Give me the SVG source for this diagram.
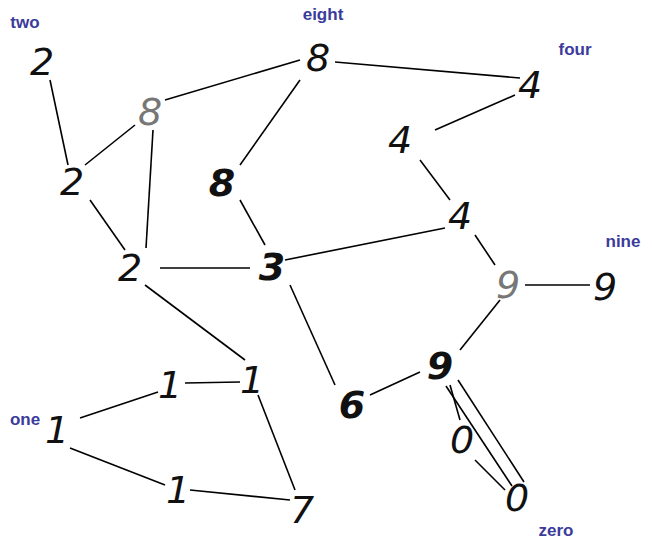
<svg xmlns="http://www.w3.org/2000/svg" width="652" height="552" viewBox="0 0 652 552">
<style>
.e{stroke:#000;stroke-width:1.6;fill:none}
.d{font-family:"DejaVu Sans",sans-serif;font-style:italic;font-size:38px;fill:#111;text-anchor:middle;dominant-baseline:central}
.b{font-weight:bold}
.g{fill:#777}
.l{font-family:"Liberation Sans",sans-serif;font-weight:bold;font-size:17px;fill:#3b3b9b;text-anchor:middle}
</style>
<rect width="652" height="552" fill="#fff"/>
<g id="connectors">
<line class="e" x1="50" y1="80" x2="68" y2="165"/>
<line class="e" x1="85" y1="165" x2="135" y2="125"/>
<line class="e" x1="165" y1="100" x2="300" y2="60"/>
<line class="e" x1="335" y1="62" x2="520" y2="78"/>
<line class="e" x1="515" y1="95" x2="435" y2="130"/>
<line class="e" x1="300" y1="80" x2="240" y2="165"/>
<line class="e" x1="153" y1="130" x2="146" y2="248"/>
<line class="e" x1="90" y1="200" x2="125" y2="250"/>
<line class="e" x1="160" y1="268" x2="250" y2="268"/>
<line class="e" x1="240" y1="200" x2="265" y2="245"/>
<line class="e" x1="285" y1="260" x2="445" y2="228"/>
<line class="e" x1="420" y1="160" x2="450" y2="200"/>
<line class="e" x1="475" y1="235" x2="495" y2="265"/>
<line class="e" x1="525" y1="285" x2="590" y2="285"/>
<line class="e" x1="500" y1="300" x2="460" y2="350"/>
<line class="e" x1="290" y1="285" x2="335" y2="385"/>
<line class="e" x1="370" y1="395" x2="420" y2="372"/>
<line class="e" x1="450" y1="385" x2="460" y2="420"/>
<line class="e" x1="446" y1="386" x2="512" y2="486"/>
<line class="e" x1="458" y1="380" x2="524" y2="482"/>
<line class="e" x1="475" y1="460" x2="505" y2="490"/>
<line class="e" x1="145" y1="285" x2="245" y2="360"/>
<line class="e" x1="185" y1="383" x2="240" y2="382"/>
<line class="e" x1="258" y1="395" x2="295" y2="490"/>
<line class="e" x1="80" y1="418" x2="158" y2="392"/>
<line class="e" x1="70" y1="448" x2="165" y2="485"/>
<line class="e" x1="190" y1="490" x2="290" y2="500"/>
</g>
<g id="n1"><text class="d" x="42" y="62">2</text><text class="l" x="25" y="28">two</text></g>
<g id="n2"><text class="d g" x="150" y="112">8</text></g>
<g id="n3"><text class="d" x="318" y="58">8</text><text class="l" x="323" y="20">eight</text></g>
<g id="n4"><text class="d" x="530" y="85">4</text><text class="l" x="575" y="55">four</text></g>
<g id="n5"><text class="d" x="400" y="140">4</text></g>
<g id="n6"><text class="d" x="72" y="182">2</text></g>
<g id="n7"><text class="d b" x="222" y="183">8</text></g>
<g id="n8"><text class="d" x="460" y="216">4</text></g>
<g id="n9"><text class="d" x="130" y="268">2</text></g>
<g id="n10"><text class="d b" x="272" y="267">3</text></g>
<g id="n11"><text class="d g" x="508" y="285">9</text></g>
<g id="n12"><text class="d" x="605" y="287">9</text><text class="l" x="623" y="247">nine</text></g>
<g id="n13"><text class="d" x="252" y="380">1</text></g>
<g id="n14"><text class="d" x="170" y="385">1</text></g>
<g id="n15"><text class="d b" x="352" y="405">6</text></g>
<g id="n16"><text class="d b" x="440" y="366">9</text></g>
<g id="n17"><text class="d" x="462" y="440">0</text></g>
<g id="n18"><text class="d" x="57" y="430">1</text><text class="l" x="25" y="425">one</text></g>
<g id="n19"><text class="d" x="178" y="490">1</text></g>
<g id="n20"><text class="d" x="302" y="510">7</text></g>
<g id="n21"><text class="d" x="517" y="498">0</text><text class="l" x="556" y="536">zero</text></g>
</svg>
